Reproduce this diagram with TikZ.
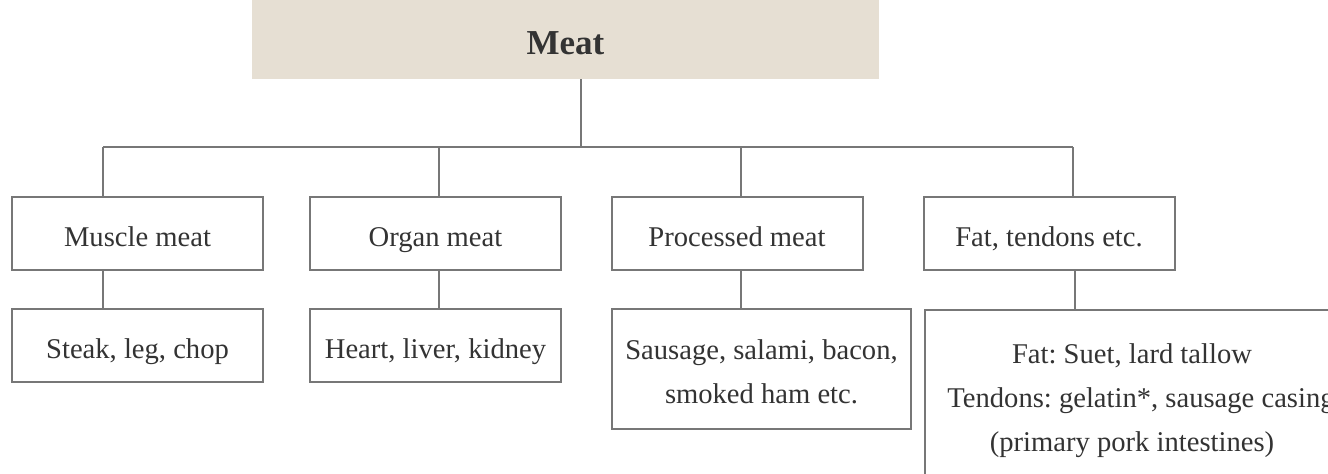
\documentclass[tikz,border=0pt]{standalone}
\usepackage{fontspec}
\setmainfont{Liberation Serif}
\frenchspacing
\usetikzlibrary{positioning}
\definecolor{linegray}{HTML}{777777}
\definecolor{textgray}{HTML}{333333}
\definecolor{headfill}{HTML}{E6DFD3}

\begin{document}
\begin{tikzpicture}[x=0.5pt, y=-0.5pt,
    headbox/.style={rectangle, fill=headfill, minimum width=313.5pt, minimum height=40pt, font=\fontsize{17.5}{21}\selectfont\bfseries, text=textgray},
    boxline/.style={rectangle, draw=linegray, line width=1pt, fill=white, font=\fontsize{14.3}{22}\selectfont, text=textgray, align=center},
    catbox/.style={boxline, minimum width=125.5pt, minimum height=36.5pt, execute at begin node=\rule{0pt}{19.5pt}, execute at end node=\strut},
    link/.style={draw=linegray, line width=1pt}
]
\clip (0,0) rectangle (1328,473);
\fill[white] (0,0) rectangle (1328,473);

% root
\node[headbox] (meat) at (565.5,39) {\raisebox{-7.5pt}[0pt][0pt]{Meat}};

% first level
\node[catbox] (muscle) at (137.5,233.5) {Muscle meat};
\node[catbox] (organ) at (435.5,233.5) {Organ meat};
\node[catbox] (processed) at (737,233.5) {Processed meat};
\node[catbox] (fat) at (1049,233.5) {Fat, tendons etc.};

% second level
\node[catbox] (steak) at (137.5,345.5) {Steak, leg, chop};
\node[catbox] (heart) at (435.5,345.5) {Heart, liver, kidney};
\node[boxline, minimum width=149.5pt, minimum height=60pt] (sausage) at (761.5,369)
    {\raisebox{5pt}[0pt][0pt]{\begin{tabular}[t]{@{}c@{}}Sausage, salami, bacon,\\smoked ham etc.\end{tabular}}};
\node[boxline, minimum width=208pt, minimum height=110pt, anchor=north west] (fatitems) at (924,309) {};
\node[font=\fontsize{14.3}{22}\selectfont, text=textgray, align=center] (fatnote) at (1132,401)
    {Fat: Suet, lard tallow\\\hspace*{9pt}Tendons: gelatin*, sausage casing\\(primary pork intestines)};

% connectors
\coordinate (hub) at (581,147);
\coordinate (mtap) at (103,147);
\coordinate (otap) at (439,147);
\coordinate (ptap) at (741,147);
\coordinate (ftap) at (1073,147);
\draw[link] (meat.south -| hub) -- (hub);
\draw[link] (mtap) -- (ftap);
\foreach \t/\n in {mtap/muscle, otap/organ, ptap/processed, ftap/fat}
    \draw[link] (\t) -- (\t |- \n.north);
\draw[link] (muscle.south -| mtap) -- (steak.north -| mtap);
\draw[link] (organ.south -| otap) -- (heart.north -| otap);
\draw[link] (processed.south -| ptap) -- (sausage.north -| ptap);
\draw[link] (fat.south -| 1075,0) -- (fatitems.north -| 1075,0);
\end{tikzpicture}
\end{document}
